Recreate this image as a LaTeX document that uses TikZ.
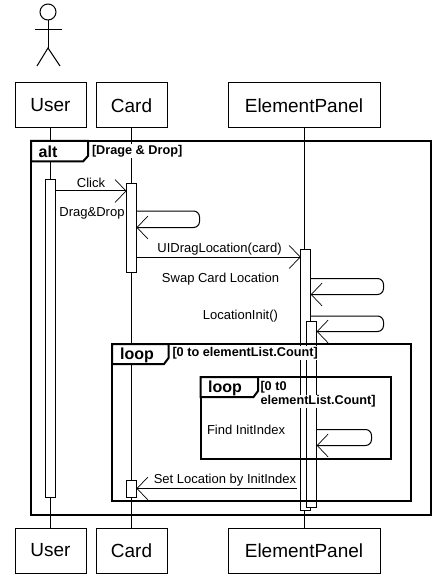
\documentclass[tikz,border=0pt]{standalone}
\usepackage{fontspec}
\setmainfont{Liberation Sans}
\usetikzlibrary{positioning, shapes, calc, arrows.meta}

\begin{document}
\begin{tikzpicture}[x=1pt, y=-1pt, line width=1pt,
    headbox/.style={draw, rectangle, minimum width=71pt, minimum height=45pt, outer sep=0pt, font=\fontsize{19}{22}\selectfont},
    actbox/.style={draw, rectangle, fill=white, minimum width=10pt, outer sep=0pt, anchor=north},
    framebox/.style={draw, rectangle, line width=2pt, outer sep=0pt, anchor=north west},
    tabline/.style={draw, line width=2pt, fill=white},
    tabtext/.style={font=\fontsize{16}{18}\selectfont\bfseries},
    guard/.style={anchor=west, fill=white, inner sep=1pt, minimum height=13pt, font=\fontsize{12.7}{15}\selectfont\bfseries},
    msgtext/.style={inner sep=0pt, font=\fontsize{13}{15}\selectfont},
    msg/.style={-{Straight Barb[length=11pt, width=23pt, line width=0.7pt]}, line width=1pt}]
      \useasboundingbox (0,0) rectangle (441,585);

      % actor
      \node[draw, circle, minimum size=16pt, inner sep=0pt, outer sep=0pt] (head) at (48,12) {};
      \coordinate (hip) at (48,48);
      \coordinate (footl) at (37,66);
      \coordinate (footr) at (60,66);
      \coordinate (arml) at (35,30);
      \coordinate (armr) at (62,30);
      \draw (head) -- (hip);
      \draw (arml) -- (armr);
      \draw (footl) -- (hip) -- (footr);

      % heads
      \node[headbox] (user) at (50.5,105.5) {User};
      \node[headbox] (card) at (131.5,105.5) {Card};
      \node[headbox, minimum width=152pt] (panel) at (304,105.5) {ElementPanel};
      \node[headbox] (userb) at (50.5,550.5) {User};
      \node[headbox] (cardb) at (131.5,550.5) {Card};
      \node[headbox, minimum width=152pt] (panelb) at (304,550.5) {ElementPanel};

      \draw (user) -- (userb);
      \draw (card) -- (cardb);
      \draw (panel) -- (panelb);

      % activations
      \node[actbox, minimum height=317pt] (useract) at (50.5,180) {};
      \node[actbox, minimum height=88pt] (cardact) at (131.5,184) {};
      \node[actbox, minimum height=17.5pt] (cardend) at (131.5,480) {};
      \node[actbox, minimum height=261.5pt] (panelact) at (305.7,249) {};
      \node[actbox, minimum height=186.5pt] (initact) at (311.7,321) {};

      % messages
      \node[msgtext] (click) at (91,183) {Click};
      \draw[msg] (useract.east |- 0,191) -- (cardact.west |- 0,191);

      \node[msgtext] (dragdrop) at (92,213.5) {Drag\&Drop};
      \draw[msg, rounded corners=6pt] (cardact.east |- 0,211) -- (199.5,211) -- (199.5,227.5) -- (cardact.east |- 0,227.5);

      \node[msgtext] (uidrag) at (219.5,249) {UIDragLocation(card)};
      \draw[msg] (cardact.east |- 0,257) -- (panelact.west |- 0,257);

      \node[msgtext] (swap) at (220.5,279) {Swap Card Location};
      \draw[msg, rounded corners=6pt] (panelact.east |- 0,278.5) -- (383.5,278.5) -- (383.5,294.5) -- (panelact.east |- 0,294.5);

      \node[msgtext, anchor=east] (init) at (278.5,316) {LocationInit()};
      \draw[msg, rounded corners=6pt] (panelact.east |- 0,316) -- (383.5,316) -- (383.5,331.5) -- (initact.east |- 0,331.5);

      \node[msgtext, anchor=west] (find) at (206.5,429.5) {Find InitIndex};
      \draw[msg, rounded corners=6pt] (initact.east |- 0,429.5) -- (371.5,429.5) -- (371.5,445.5) -- (initact.east |- 0,445.5);

      \node[msgtext] (setloc) at (225,480) {Set Location by InitIndex};
      \coordinate (setstart) at (297,488.5);
      \draw[msg] (setstart) -- (cardend.east |- setstart);

      % guards
      \node[guard] (altguard) at (90.5,151) {[Drage \& Drop]};
      \node[guard] (outerguard) at (171,353) {[0 to elementList.Count]};
      \node[guard] (innerone) at (259,387) {[0 t0};
      \node[guard] (innertwo) at (259,401.5) {elementList.Count]};

      % frames
      \node[framebox, minimum width=400pt, minimum height=374pt] (altframe) at (31,141) {};
      \node[framebox, minimum width=299pt, minimum height=157pt] (outerframe) at (112,344) {};
      \node[framebox, minimum width=190.5pt, minimum height=82pt] (innerframe) at (200.5,377) {};

      \draw[tabline] (31,141) -- (88,141) -- (88,156) -- (83,161.5) -- (31,161.5) -- cycle;
      \draw[tabline] (112,344) -- (168.5,344) -- (168.5,358) -- (164,364) -- (112,364) -- cycle;
      \draw[tabline] (200.5,377) -- (258,377) -- (258,391) -- (253.5,397) -- (200.5,397) -- cycle;

      \node[tabtext] (alttab) at (48,152) {alt};
      \node[tabtext] (outertab) at (137,355) {loop};
      \node[tabtext] (innertab) at (225,388.5) {loop};
\end{tikzpicture}
\end{document}
